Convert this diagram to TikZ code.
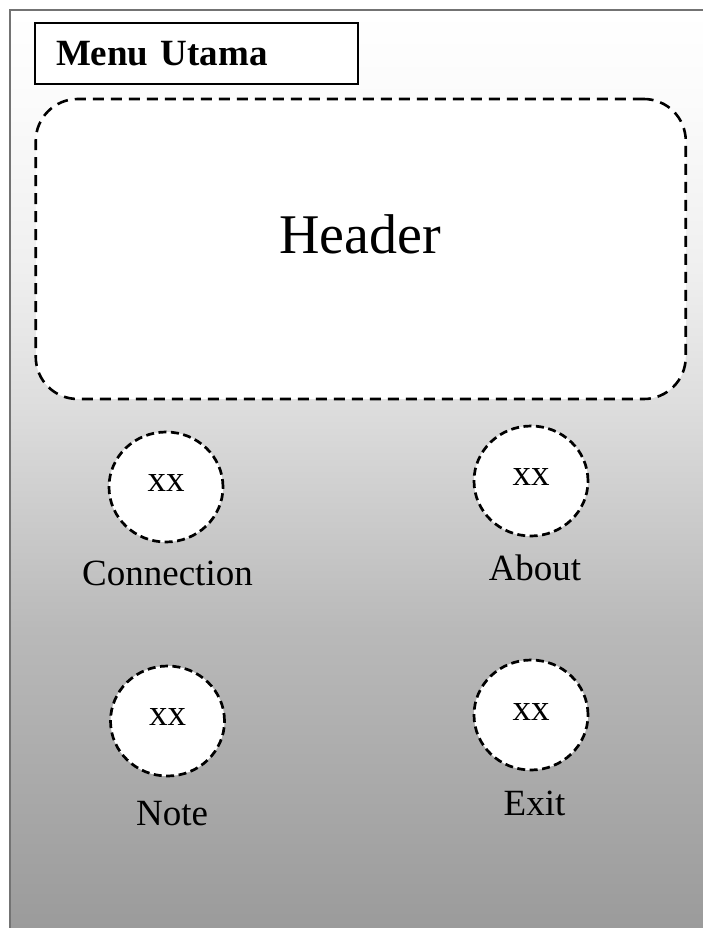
\documentclass[tikz,border=0pt]{standalone}
\usepackage{fontspec}
\setmainfont{Liberation Serif}
\usetikzlibrary{shapes.geometric}

% background of the screen: white at the top, darkening towards the bottom
\pgfdeclareverticalshading{panelgrad}{100bp}{%
rgb(0bp)=(0.608,0.608,0.608);%
rgb(25bp)=(0.608,0.608,0.608);%
rgb(41.2bp)=(0.725,0.725,0.725);%
rgb(53.7bp)=(0.87,0.87,0.87);%
rgb(60.8bp)=(0.937,0.937,0.937);%
rgb(70bp)=(0.984,0.984,0.984);%
rgb(75bp)=(1,1,1);%
rgb(100bp)=(1,1,1)}

\definecolor{framegray}{gray}{0.45}

\begin{document}
\begin{tikzpicture}[x=1pt,y=-1pt,
  lbl/.style={font=\fontsize{37}{44}\selectfont, anchor=base, inner sep=0pt},
  btn/.style={ellipse, draw, dash pattern=on 8pt off 4.5pt, line width=2.7pt,
    fill=white, minimum width=114pt, minimum height=110pt, inner sep=0pt,
    font=\fontsize{37}{44}\selectfont, text depth=7pt}]
\useasboundingbox (0,0) rectangle (703,928);
\fill[white] (0,0) rectangle (703,928);
\begin{scope}
  \clip (0,0) rectangle (703,928);
  \shade[shading=panelgrad] (10,10) rectangle (730,928);
  \draw[framegray, line width=2.5pt] (10,940) -- (10,10) -- (740,10);
\end{scope}

% title box
\node[draw, line width=1.8pt, fill=white, minimum width=323pt, minimum height=61pt,
  inner xsep=21pt, text width=281pt, align=left,
  font=\fontsize{37}{44}\selectfont\bfseries] (menu) at (196.5,53.5) {Menu Utama};

% header area
\node[draw, rounded corners=42pt, dash pattern=on 11pt off 7pt, line width=2.6pt,
  fill=white, minimum width=650pt, minimum height=300pt, inner sep=0pt]
  (header) at (360.75,249) {};
\node[font=\fontsize{56}{67}\selectfont, anchor=base, inner sep=0pt]
  (headertitle) at (360,253) {Header};

% menu buttons
\node[btn] (connection) at (166,487) {xx};
\node[btn] (about) at (531,481) {xx};
\node[btn] (note) at (167.5,721) {xx};
\node[btn] (exit) at (531,715) {xx};

\node[lbl] (connectionlabel) at (167.5,585) {Connection};
\node[lbl] (aboutlabel) at (535,580) {About};
\node[lbl] (notelabel) at (172,825) {Note};
\node[lbl] (exitlabel) at (534.5,815) {Exit};
\end{tikzpicture}
\end{document}
